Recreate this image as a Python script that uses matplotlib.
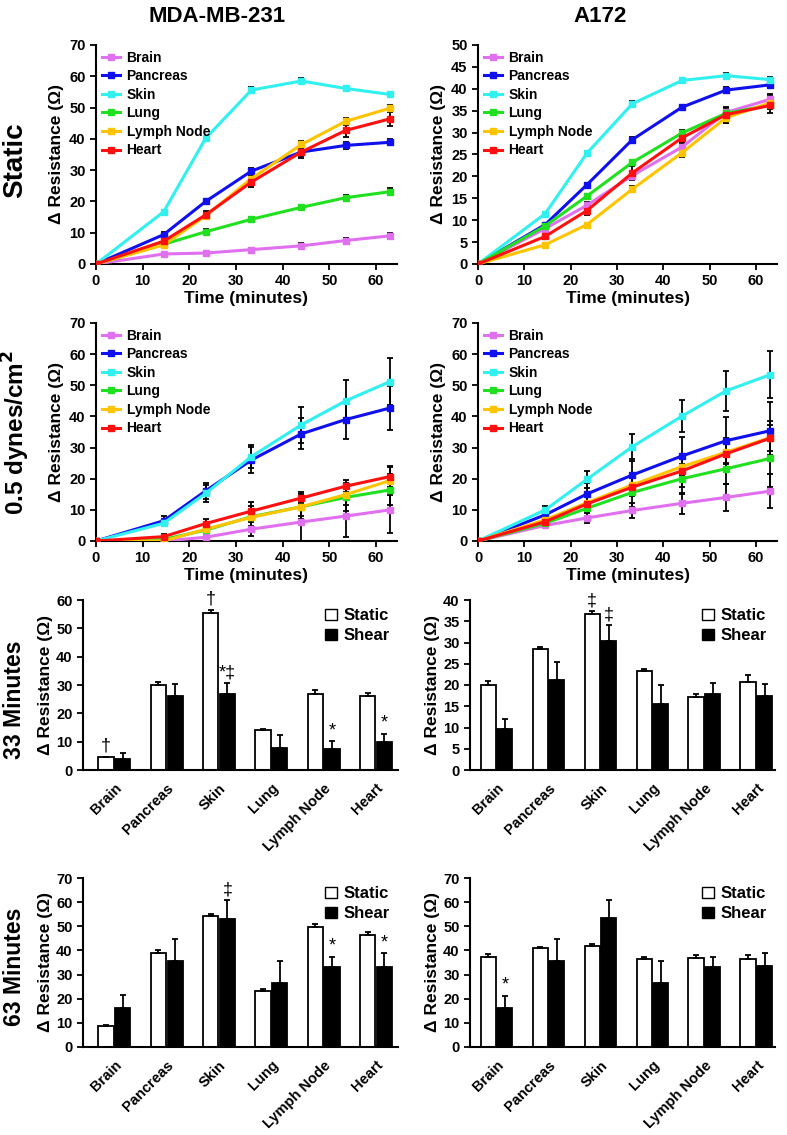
import matplotlib
matplotlib.use("Agg")
import matplotlib.pyplot as plt
import numpy as np
from matplotlib.lines import Line2D
from matplotlib.patches import Patch

plt.rcParams['font.family'] = ['Liberation Sans', 'DejaVu Sans']
plt.rcParams['font.weight'] = 'bold'
plt.rcParams['axes.labelweight'] = 'bold'

W, H = 787, 1135

tissues = ["Brain", "Pancreas", "Skin", "Lung", "Lymph Node", "Heart"]
colors = ["#e070f0", "#1010ee", "#30f0f0", "#20e020", "#ffc400", "#ff1010"]
times = [0, 14.5, 23.5, 33.3, 44, 53.5, 63]

# ---- time courses (rows: tissues) ----
mda_static = [
    [0, 3.2, 3.5, 4.6, 5.8, 7.5, 9.0],
    [0, 9.4, 20.0, 29.7, 35.8, 37.9, 38.9],
    [0, 16.7, 40.2, 55.6, 58.5, 56.1, 54.2],
    [0, 6.3, 10.3, 14.3, 18.1, 21.2, 23.1],
    [0, 6.1, 15.4, 27.3, 38.2, 45.6, 49.8],
    [0, 7.3, 15.7, 26.2, 35.8, 42.7, 46.4],
]
mda_static_err = [
    [0, 0.3, 0.3, 0.5, 0.8, 0.9, 0.9],
    [0, 0.8, 0.8, 1.1, 1.2, 1.0, 1.0],
    [0, 0.5, 0.8, 1.0, 0.8, 0.9, 0.9],
    [0, 0.5, 0.8, 0.8, 0.9, 1.0, 1.1],
    [0, 0.5, 0.9, 1.3, 1.2, 1.2, 1.1],
    [0, 0.9, 1.2, 1.6, 1.8, 2.2, 2.2],
]
a172_static = [
    [0, 8.1, 13.4, 20.2, 26.7, 34.6, 37.6],
    [0, 9.0, 18.1, 28.4, 35.8, 39.7, 40.9],
    [0, 11.5, 25.3, 36.6, 41.9, 43.0, 42.1],
    [0, 8.7, 15.5, 23.2, 29.9, 34.4, 36.3],
    [0, 4.4, 9.0, 17.1, 25.4, 33.4, 36.8],
    [0, 6.3, 12.2, 20.8, 28.8, 34.1, 36.2],
]
a172_static_err = [
    [0, 0.6, 0.8, 1.0, 1.0, 1.0, 1.2],
    [0, 0.4, 0.4, 0.6, 0.6, 0.7, 0.6],
    [0, 0.4, 0.5, 0.7, 0.6, 0.6, 0.7],
    [0, 0.4, 0.5, 0.6, 0.8, 0.8, 0.8],
    [0, 0.3, 0.3, 0.7, 0.9, 1.2, 1.5],
    [0, 0.5, 0.9, 1.5, 1.0, 1.8, 1.8],
]
mda_shear = [
    [0, 0.0, 1.2, 3.8, 6.1, 8.0, 10.0],
    [0, 6.5, 16.1, 26.0, 34.4, 39.0, 42.7],
    [0, 5.7, 15.3, 27.1, 37.3, 45.0, 51.2],
    [0, 0.5, 3.5, 7.8, 11.0, 14.0, 16.4],
    [0, 0.0, 3.8, 7.6, 11.0, 14.9, 19.4],
    [0, 1.4, 5.6, 9.6, 13.8, 17.6, 20.7],
]
mda_shear_err = [
    [0, 0.5, 1.0, 2.3, 6.1, 6.6, 7.5],
    [0, 1.5, 2.5, 4.1, 5.0, 6.2, 7.2],
    [0, 1.0, 2.8, 3.7, 5.8, 6.8, 7.5],
    [0, 0.5, 1.5, 4.7, 4.0, 4.5, 5.0],
    [0, 0.3, 1.5, 2.7, 3.0, 3.5, 4.5],
    [0, 1.0, 1.5, 1.6, 1.8, 2.0, 3.5],
]
a172_shear = [
    [0, 5.0, 7.4, 9.8, 12.1, 14.0, 16.0],
    [0, 8.4, 15.1, 21.2, 27.3, 32.2, 35.4],
    [0, 10.0, 19.8, 30.3, 40.1, 48.2, 53.4],
    [0, 5.7, 10.5, 15.6, 20.0, 23.2, 26.5],
    [0, 6.8, 12.3, 18.0, 23.9, 28.5, 33.2],
    [0, 6.2, 11.9, 17.3, 22.5, 28.0, 33.0],
]
a172_shear_err = [
    [0, 0.5, 1.5, 2.5, 3.3, 4.3, 5.4],
    [0, 1.5, 3.5, 4.5, 6.0, 7.5, 9.2],
    [0, 1.2, 2.8, 4.0, 5.2, 6.5, 7.5],
    [0, 1.0, 2.5, 4.6, 4.8, 5.0, 9.3],
    [0, 1.0, 2.5, 2.5, 3.0, 3.5, 4.2],
    [0, 1.0, 2.5, 3.0, 5.0, 5.0, 5.4],
]

# ---- bar data ----
mda33_static = [4.5, 29.9, 55.5, 14.2, 26.8, 26.1]
mda33_static_err = [0.2, 1.1, 1.0, 0.4, 1.4, 1.2]
mda33_shear = [3.8, 26.1, 26.9, 7.8, 7.4, 9.8]
mda33_shear_err = [2.3, 4.1, 3.7, 4.7, 2.7, 3.0]
a172_33_static = [19.9, 28.4, 36.6, 23.2, 17.1, 20.8]
a172_33_static_err = [1.0, 0.6, 0.7, 0.6, 0.7, 1.5]
a172_33_shear = [9.6, 21.2, 30.3, 15.6, 17.8, 17.3]
a172_33_shear_err = [2.4, 4.3, 3.8, 4.5, 2.6, 3.0]
mda63_static = [8.9, 38.9, 54.2, 23.1, 49.8, 46.4]
mda63_static_err = [0.3, 1.1, 0.8, 1.1, 1.1, 1.2]
mda63_shear = [16.0, 35.5, 53.2, 26.5, 33.1, 33.3]
mda63_shear_err = [5.5, 9.1, 7.6, 9.3, 4.3, 5.5]
a172_63_static = [37.3, 40.9, 41.8, 36.3, 36.7, 36.3]
a172_63_static_err = [1.2, 0.6, 0.7, 0.8, 1.5, 1.8]
a172_63_shear = [16.0, 35.5, 53.4, 26.5, 33.3, 33.4]
a172_63_shear_err = [5.3, 9.1, 7.4, 9.3, 4.1, 5.4]

# significance marks: (group, 0=static/1=shear, symbol)
mda33_marks = [(0, 0, "†"), (2, 0, "†"), (2, 1, "*‡"), (4, 1, "*"), (5, 1, "*")]
a172_33_marks = [(2, 0, "‡"), (2, 1, "‡")]
mda63_marks = [(2, 1, "‡"), (4, 1, "*"), (5, 1, "*")]
a172_63_marks = [(0, 1, "*")]

fig = plt.figure(figsize=(W / 100, H / 100), dpi=100)


def add_ax(l, r, t, b):
    return fig.add_axes([l / W, 1 - b / H, (r - l) / W, (b - t) / H])


def style(ax):
    ax.spines['top'].set_visible(False)
    ax.spines['right'].set_visible(False)
    ax.spines['left'].set_linewidth(1.5)
    ax.spines['bottom'].set_linewidth(1.5)
    ax.tick_params(width=1.3, length=4, labelsize=10.5)


def line_panel(ax, vals, errs, ymax, ystep):
    for i, name in enumerate(tissues):
        ax.errorbar(times, vals[i], yerr=errs[i], color=colors[i], ecolor='black',
                    elinewidth=1.3, capsize=2, capthick=1.3, lw=2.2,
                    marker='s', ms=4, label=name, zorder=3)
    ax.set_xlim(0, 64.5)
    ax.set_ylim(0, ymax)
    ax.set_xticks(range(0, 61, 10))
    ax.set_yticks(np.arange(0, ymax + 0.1, ystep))
    ax.set_xlabel("Time (minutes)", fontsize=12.5, labelpad=2)
    ax.set_ylabel("Δ Resistance (Ω)", fontsize=12.5)
    handles = [Line2D([0], [0], color=c, lw=2.2, marker='s', ms=4) for c in colors]
    ax.legend(handles, tissues, loc='upper left', frameon=False, fontsize=10,
              handlelength=1.3, handletextpad=0.5, labelspacing=0.33,
              borderaxespad=0.0, bbox_to_anchor=(0.0, 1.0))
    for lab in ax.get_xticklabels() + ax.get_yticklabels():
        lab.set_fontweight('bold')
    style(ax)


def bar_panel(ax, st, st_err, sh, sh_err, marks, ymax, ystep, xl):
    x = np.arange(len(tissues))
    w = 0.29
    off = 0.16
    ax.bar(x - off, st, w, yerr=[np.zeros(len(st)), st_err], color='white',
           edgecolor='black', lw=1.3, capsize=2,
           error_kw=dict(elinewidth=1.3, capthick=1.3), label="Static")
    ax.bar(x + off, sh, w, yerr=[np.zeros(len(sh)), sh_err], color='black',
           edgecolor='black', lw=1.3, capsize=2,
           error_kw=dict(elinewidth=1.3, capthick=1.3), label="Shear")
    for g, k, sym in marks:
        if k == 0:
            xx, top = x[g] - off, st[g] + st_err[g]
        else:
            xx, top = x[g] + off, sh[g] + sh_err[g]
        ax.text(xx, top + ymax * 0.012, sym, ha='center', va='bottom',
                fontsize=13, fontweight='normal')
    ax.set_xlim(*xl)
    ax.set_ylim(0, ymax)
    ax.set_yticks(np.arange(0, ymax + 0.1, ystep))
    ax.set_xticks(x)
    ax.set_xticklabels(tissues, rotation=45, ha='right', rotation_mode='anchor',
                       fontsize=11, fontweight='bold')
    ax.set_ylabel("Δ Resistance (Ω)", fontsize=12.5, labelpad=2)
    handles = [Patch(facecolor='white', edgecolor='black', lw=1.0),
               Patch(facecolor='black', edgecolor='black', lw=1.0)]
    ax.legend(handles, ["Static", "Shear"], loc='upper right', frameon=False,
              fontsize=12, handlelength=0.7, handleheight=0.7,
              handletextpad=0.4, labelspacing=0.3, borderaxespad=0.1)
    for lab in ax.get_yticklabels():
        lab.set_fontweight('bold')
    style(ax)
    ax.tick_params(axis='x', length=0, pad=8)


ax1 = add_ax(96, 397, 45, 264)
line_panel(ax1, mda_static, mda_static_err, 70, 10)
ax2 = add_ax(478, 777, 45, 264)
line_panel(ax2, a172_static, a172_static_err, 50, 5)
ax3 = add_ax(96, 397, 323, 541)
line_panel(ax3, mda_shear, mda_shear_err, 70, 10)
ax4 = add_ax(478, 777, 323, 541)
line_panel(ax4, a172_shear, a172_shear_err, 70, 10)

ax5 = add_ax(83, 398, 600, 770)
bar_panel(ax5, mda33_static, mda33_static_err, mda33_shear, mda33_shear_err,
          mda33_marks, 60, 10, (-0.6, 5.42))
ax6 = add_ax(470, 775, 600, 770)
bar_panel(ax6, a172_33_static, a172_33_static_err, a172_33_shear, a172_33_shear_err,
          a172_33_marks, 40, 5, (-0.51, 5.36))
ax7 = add_ax(83, 398, 878, 1047)
bar_panel(ax7, mda63_static, mda63_static_err, mda63_shear, mda63_shear_err,
          mda63_marks, 70, 10, (-0.6, 5.42))
ax8 = add_ax(470, 775, 878, 1047)
bar_panel(ax8, a172_63_static, a172_63_static_err, a172_63_shear, a172_63_shear_err,
          a172_63_marks, 70, 10, (-0.51, 5.36))

# column and row titles
fig.text(217 / W, 1 - 16 / H, "MDA-MB-231", ha='center', va='center', fontsize=16)
fig.text(600 / W, 1 - 16 / H, "A172", ha='center', va='center', fontsize=16)
fig.text(15 / W, 1 - 160 / H, "Static", rotation=90, ha='center', va='center', fontsize=20)
fig.text(16 / W, 1 - 433 / H, "0.5 dynes/cm$^\\mathbf{2}$", rotation=90, ha='center',
         va='center', fontsize=17.5)
fig.text(15 / W, 1 - 700 / H, "33 Minutes", rotation=90, ha='center', va='center', fontsize=16.5)
fig.text(15 / W, 1 - 967 / H, "63 Minutes", rotation=90, ha='center', va='center', fontsize=16.5)

fig.savefig("out.png", dpi=100)
